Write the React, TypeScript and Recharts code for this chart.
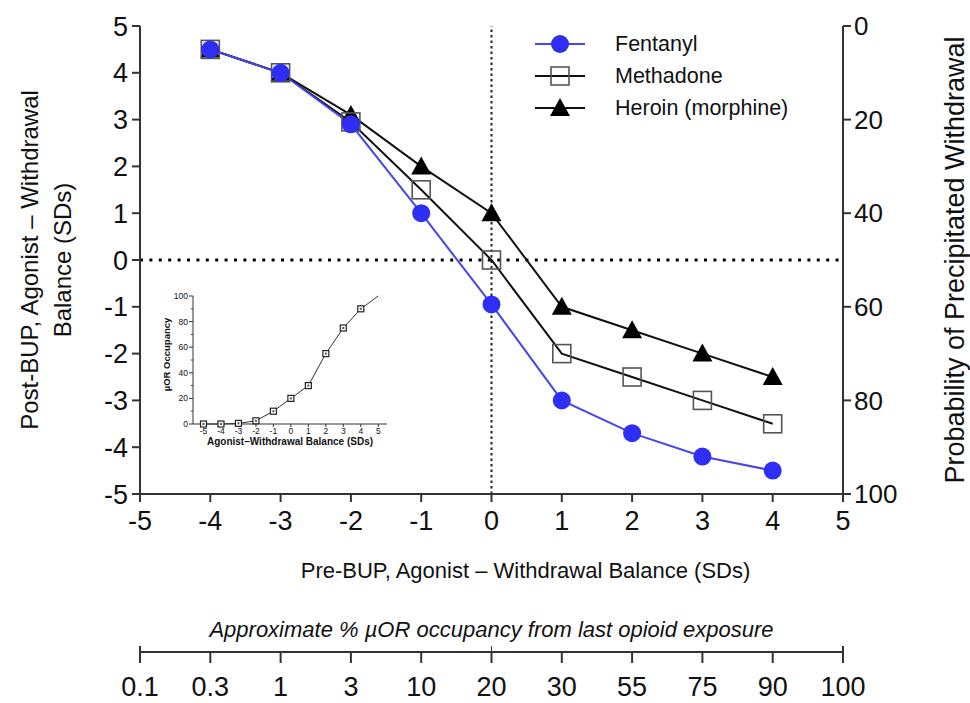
import React from "react";
import {
  ComposedChart,
  LineChart,
  Line,
  XAxis,
  YAxis,
  ReferenceLine,
  Legend,
} from "recharts";

const FONT = "'Liberation Sans', Arial, Helvetica, sans-serif";
const NARROW = "'Liberation Sans Narrow', 'Liberation Sans', Arial, sans-serif";
const INK = "#111";
const AXIS = "#333";
const BLUE_LINE = "#4646ea";
const BLUE_DOT = "#2e2ef5";

// main panel: pre-BUP balance vs post-BUP balance
const PRE_BALANCE = [-4, -3, -2, -1, 0, 1, 2, 3, 4];
const FENTANYL = [4.5, 4.0, 2.9, 1.0, -0.95, -3.0, -3.7, -4.2, -4.5];
const METHADONE = [4.5, 4.0, 2.95, 1.5, 0, -2.0, -2.5, -3.0, -3.5];
const HEROIN = [4.5, 4.0, 3.1, 2.0, 1.0, -1.0, -1.5, -2.0, -2.5];

const BALANCE_TICKS = [-5, -4, -3, -2, -1, 0, 1, 2, 3, 4, 5];
const PROB_TICKS = [0, 20, 40, 60, 80, 100];

// inset: uOR occupancy vs balance
const INSET_BALANCE = [-5, -4, -3, -2, -1, 0, 1, 2, 3, 4, 5];
const INSET_OCCUPANCY = [0, 0, 0.5, 2.5, 10, 20, 30, 55, 75, 90, 100];
const INSET_Y_TICKS = [0, 10, 20, 30, 40, 50, 60, 70, 80, 90, 100];

// bottom occupancy scale
const OCC_LABELS = ["0.1", "0.3", "1", "3", "10", "20", "30", "55", "75", "90", "100"];

const mainData = PRE_BALANCE.map((x, i) => ({
  x,
  fentanyl: FENTANYL[i],
  methadone: METHADONE[i],
  heroin: HEROIN[i],
}));

const insetData = INSET_BALANCE.map((x, i) => ({ x, occ: INSET_OCCUPANCY[i] }));
const occData = BALANCE_TICKS.map((pos, i) => ({ pos, label: OCC_LABELS[i] }));

const Circle = ({ cx, cy }: any) =>
  cx == null ? null : <circle cx={cx} cy={cy} r={9} fill={BLUE_DOT} stroke="none" />;

const Square = ({ cx, cy }: any) =>
  cx == null ? null : (
    <rect x={cx - 9} y={cy - 9} width={18} height={18} fill="none" stroke="#555" strokeWidth={1.6} />
  );

const Triangle = ({ cx, cy }: any) =>
  cx == null ? null : (
    <path d={`M${cx},${cy - 10} L${cx + 10},${cy + 8} L${cx - 10},${cy + 8} Z`} fill="#000" />
  );

const LEGEND = [
  { name: "Fentanyl", color: BLUE_LINE, Marker: Circle },
  { name: "Methadone", color: "#111", Marker: Square },
  { name: "Heroin (morphine)", color: "#111", Marker: Triangle },
];

const renderLegend = () => (
  <div style={{ fontFamily: FONT, fontSize: 21.5, color: INK }}>
    {LEGEND.map((l) => (
      <div key={l.name} style={{ display: "flex", alignItems: "center", height: 32 }}>
        <svg width={60} height={32}>
          <line x1={5} x2={55} y1={16} y2={16} stroke={l.color} strokeWidth={2} />
          <l.Marker cx={30} cy={16} />
        </svg>
        <span style={{ marginLeft: 25 }}>{l.name}</span>
      </div>
    ))}
  </div>
);

const LeftLabel = ({ viewBox }: any) => {
  const cy = viewBox.y + viewBox.height / 2;
  return (
    <g fontFamily={FONT} fontSize={24} fill={INK}>
      <text x={29} y={cy} transform={`rotate(-90 29 ${cy})`} textAnchor="middle" dominantBaseline="central">
        Post-BUP, Agonist – Withdrawal
      </text>
      <text x={62} y={cy} transform={`rotate(-90 62 ${cy})`} textAnchor="middle" dominantBaseline="central">
        Balance (SDs)
      </text>
    </g>
  );
};

const RightLabel = ({ viewBox }: any) => {
  const cy = viewBox.y + viewBox.height / 2;
  const cx = 955;
  return (
    <text
      x={cx}
      y={cy}
      transform={`rotate(-90 ${cx} ${cy})`}
      textAnchor="middle"
      dominantBaseline="central"
      fontFamily={FONT}
      fontSize={27}
      fill={INK}
    >
      Probability of Precipitated Withdrawal
    </text>
  );
};

const BottomLabel = ({ viewBox }: any) => (
  <text
    x={viewBox.x + viewBox.width / 2 + 34}
    y={578}
    textAnchor="middle"
    fontFamily={FONT}
    fontSize={22}
    fill={INK}
  >
    Pre-BUP, Agonist – Withdrawal Balance (SDs)
  </text>
);

const InsetDot = ({ cx, cy, payload }: any) =>
  cx == null || payload.x === 5 ? null : (
    <g key={`d${payload.x}`}>
      <rect x={cx - 3} y={cy - 3} width={6} height={6} fill="#fff" stroke="#222" strokeWidth={1.2} />
      <rect x={cx - 1} y={cy - 1} width={2} height={2} fill="#555" />
    </g>
  );

const InsetYTick = ({ x, y, payload }: any) => {
  const major = payload.value % 20 === 0;
  return (
    <g>
      <line x1={x + 0} x2={x - (major ? 4 : 2)} y1={y} y2={y} stroke={AXIS} strokeWidth={1} />
      {major && (
        <text x={x - 5} y={y} dy={3} textAnchor="end" fontFamily={FONT} fontSize={8.5} fill={INK}>
          {payload.value}
        </text>
      )}
    </g>
  );
};

const OccTick = ({ x, y, payload }: any) => {
  const i = BALANCE_TICKS.indexOf(payload.value);
  const end = i === 0 || i === BALANCE_TICKS.length - 1;
  return (
    <g>
      <line x1={x} x2={x} y1={end ? y - 6 : y} y2={y + 11} stroke={AXIS} strokeWidth={2} />
      {i === 5 && <line x1={x} x2={x} y1={y - 6} y2={y} stroke={AXIS} strokeWidth={1} />}
      <text x={x} y={y + 44} textAnchor="middle" fontFamily={NARROW} fontSize={27} fill={INK}>
        {OCC_LABELS[i]}
      </text>
    </g>
  );
};

const OccTitle = ({ viewBox }: any) => (
  <text
    x={viewBox.x + viewBox.width / 2}
    y={viewBox.y - 15}
    textAnchor="middle"
    fontFamily={NARROW}
    fontStyle="italic"
    fontSize={22}
    fill={INK}
  >
    Approximate % µOR occupancy from last opioid exposure
  </text>
);

const tickStyle = { fontSize: 27, fill: INK, fontFamily: FONT };

export default function App() {
  return (
    <div
      style={{
        position: "absolute",
        left: 0,
        top: 0,
        width: 970,
        height: 703,
        background: "#fff",
        overflow: "hidden",
      }}
    >
      <div style={{ position: "absolute", left: 0, top: 0 }}>
        <ComposedChart width={970} height={600} data={mainData} margin={{ top: 26, right: 0, bottom: 0, left: 0 }}>
          <XAxis
            dataKey="x"
            type="number"
            domain={[-5, 5]}
            ticks={BALANCE_TICKS}
            interval={0}
            height={106}
            tick={tickStyle}
            tickSize={8}
            tickMargin={9}
            axisLine={{ stroke: AXIS, strokeWidth: 2 }}
            tickLine={{ stroke: AXIS, strokeWidth: 2 }}
            label={<BottomLabel />}
          />
          <YAxis
            yAxisId="l"
            type="number"
            domain={[-5, 5]}
            ticks={BALANCE_TICKS}
            interval={0}
            width={140}
            tick={tickStyle}
            tickSize={8}
            tickMargin={4}
            axisLine={{ stroke: AXIS, strokeWidth: 2 }}
            tickLine={{ stroke: AXIS, strokeWidth: 2 }}
            label={<LeftLabel />}
          />
          <YAxis
            yAxisId="r"
            orientation="right"
            type="number"
            domain={[0, 100]}
            allowDataOverflow
            includeHidden
            reversed
            ticks={PROB_TICKS}
            interval={0}
            width={127}
            tick={{ ...tickStyle, fontSize: 26 }}
            tickSize={8}
            tickMargin={3}
            axisLine={{ stroke: AXIS, strokeWidth: 2 }}
            tickLine={{ stroke: AXIS, strokeWidth: 2 }}
            label={<RightLabel />}
          />
          <ReferenceLine yAxisId="l" y={0} stroke="#000" strokeWidth={3} strokeDasharray="3 6.4" />
          <ReferenceLine yAxisId="l" x={0} stroke="#222" strokeWidth={2} strokeDasharray="2.5 3" />
          {/* hidden series so the right-hand probability axis gets its scale */}
          <Line yAxisId="r" dataKey="heroin" hide legendType="none" isAnimationActive={false} />
          <Line
            yAxisId="l"
            dataKey="heroin"
            name="Heroin (morphine)"
            stroke="#111"
            strokeWidth={2}
            dot={(p: any) => <Triangle key={`h${p.index}`} {...p} />}
            isAnimationActive={false}
          />
          <Line
            yAxisId="l"
            dataKey="methadone"
            name="Methadone"
            stroke="#111"
            strokeWidth={2}
            dot={(p: any) => <Square key={`m${p.index}`} {...p} />}
            isAnimationActive={false}
          />
          <Line
            yAxisId="l"
            dataKey="fentanyl"
            name="Fentanyl"
            stroke={BLUE_LINE}
            strokeWidth={2}
            dot={(p: any) => <Circle key={`f${p.index}`} {...p} />}
            isAnimationActive={false}
          />
          <Legend
            layout="vertical"
            align="center"
            verticalAlign="middle"
            content={renderLegend}
            wrapperStyle={{ left: 530, top: 28, width: 300, height: 96 }}
          />
        </ComposedChart>
      </div>

      <div style={{ position: "absolute", left: 150, top: 280 }}>
        <LineChart width={245} height={185} data={insetData} margin={{ top: 16, right: 8, bottom: 0, left: 0 }}>
          <XAxis
            dataKey="x"
            type="number"
            domain={[-5.6, 5.5]}
            ticks={INSET_BALANCE}
            interval={0}
            height={41}
            tick={{ fontSize: 8.5, fill: INK, fontFamily: FONT }}
            tickSize={3}
            tickMargin={1}
            axisLine={{ stroke: AXIS, strokeWidth: 1 }}
            tickLine={{ stroke: AXIS, strokeWidth: 1 }}
            label={
              <text x={136} y={175} textAnchor="middle" fontFamily={FONT} fontSize={10} fontWeight="bold" fill={INK}>
                Agonist–Withdrawal Balance (SDs)
              </text>
            }
          />
          <YAxis
            type="number"
            domain={[0, 100]}
            ticks={INSET_Y_TICKS}
            interval={0}
            width={43}
            tick={<InsetYTick />}
            tickLine={false}
            tickSize={0}
            tickMargin={0}
            axisLine={{ stroke: AXIS, strokeWidth: 1 }}
            label={
              <text
                x={16}
                y={80}
                transform="rotate(-90 16 80)"
                textAnchor="middle"
                dominantBaseline="central"
                fontFamily={FONT}
                fontSize={9.5}
                fontWeight="bold"
                fill={INK}
              >
                µOR Occupancy
              </text>
            }
          />
          <Line
            dataKey="occ"
            stroke="#333"
            strokeWidth={1}
            dot={(p: any) => <InsetDot key={`i${p.index}`} {...p} />}
            isAnimationActive={false}
          />
        </LineChart>
      </div>

      <div style={{ position: "absolute", left: 0, top: 600 }}>
        <LineChart width={970} height={103} data={occData} margin={{ top: 0, right: 127, bottom: 0, left: 140 }}>
          <XAxis
            dataKey="pos"
            type="number"
            domain={[-5, 5]}
            ticks={BALANCE_TICKS}
            interval={0}
            height={51}
            tick={<OccTick />}
            tickLine={false}
            tickSize={0}
            tickMargin={0}
            axisLine={{ stroke: AXIS, strokeWidth: 2 }}
            label={<OccTitle />}
          />
          <YAxis hide domain={[0, 1]} />
        </LineChart>
      </div>
    </div>
  );
}
